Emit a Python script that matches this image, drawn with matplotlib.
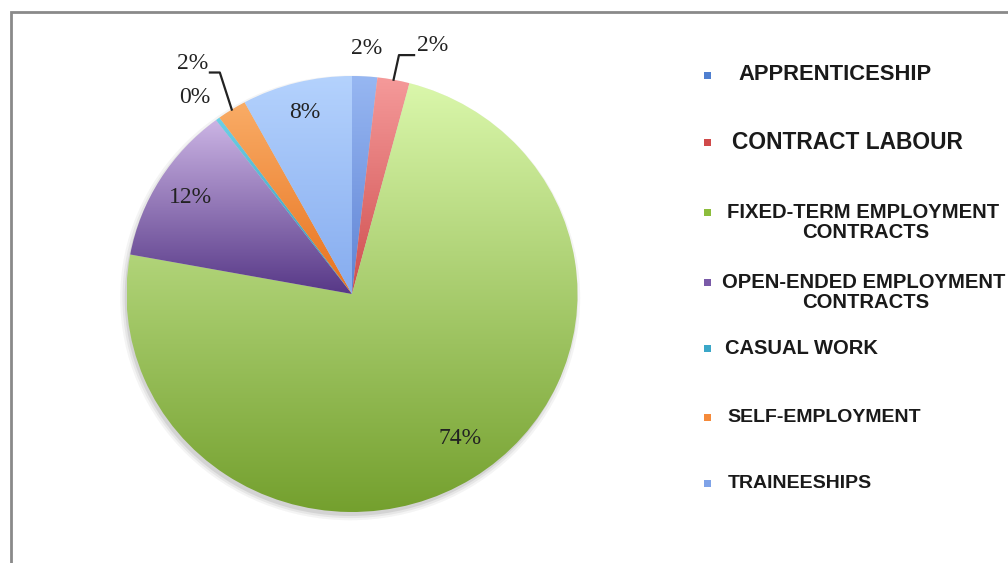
import numpy as np
import matplotlib.pyplot as plt
from matplotlib.colors import to_rgb
from matplotlib.patches import Rectangle, Ellipse

# data
labels = ['APPRENTICESHIP', 'CONTRACT LABOUR', 'FIXED-TERM EMPLOYMENT\nCONTRACTS',
          'OPEN-ENDED EMPLOYMENT\nCONTRACTS', 'CASUAL WORK', 'SELF-EMPLOYMENT', 'TRAINEESHIPS']
values = [1.8, 2.3, 73.8, 11.8, 0.3, 2.1, 7.9]
pct_text = ['2%', '2%', '74%', '12%', '0%', '2%', '8%']

# gradient colours per slice (top, bottom) and legend swatch colours
grad_top = ['#97b7f2', '#f59a9a', '#daf7ab', '#cbb4e4', '#6ed0e6', '#f9ac66', '#b4d2fd']
grad_bot = ['#5f83d4', '#cf4e4e', '#74a02e', '#573887', '#2f93b4', '#e8721e', '#86acef']
swatch = ['#4f7fd0', '#d04a4a', '#8cbd3c', '#7a5aa8', '#3ba7c8', '#f58a3a', '#7fa3e8']

W, H = 1008, 563
fig = plt.figure(figsize=(W / 100, H / 100), dpi=100)


def fx(px):
    return px / W


def fy(py):
    return 1 - py / H


# pie axes placed so the unit circle maps onto the reference ellipse
cx, cy, rx, ry = 352, 294, 225.5, 218
ax = fig.add_axes([fx(cx - rx), fy(cy + ry), 2 * rx / W, 2 * ry / H])
ax.set_xlim(-1, 1)
ax.set_ylim(-1, 1)
ax.axis('off')

# soft shadow below the pie
for i, a in enumerate([0.05, 0.07, 0.1]):
    s = 1.0 + 0.01 * (2 - i)
    ax.add_patch(Ellipse((-0.008, -0.018), 2 * s, 2 * s, facecolor='#303030',
                         edgecolor='none', alpha=a, zorder=0, clip_on=False))

wedges, _ = ax.pie(values, startangle=90, counterclock=False, radius=1,
                   colors=grad_bot, wedgeprops=dict(linewidth=0))

for w, c1, c2 in zip(wedges, grad_top, grad_bot):
    ext = w.get_path().get_extents()
    t = np.linspace(0, 1, 256)[:, None, None]
    img = (1 - t) * np.array(to_rgb(c1)) + t * np.array(to_rgb(c2))
    im = ax.imshow(img, extent=(ext.x0, ext.x1, ext.y0, ext.y1), aspect='auto',
                   origin='upper', zorder=2, interpolation='bilinear')
    im.set_clip_path(w)
    w.set_facecolor('none')
ax.set_xlim(-1, 1)
ax.set_ylim(-1, 1)

# percentage labels
mids = []
cum = 0
for v in values:
    ang = np.deg2rad((cum + v / 2) / sum(values) * 360)
    mids.append(ang)
    cum += v

dist = [1.13, None, 0.81, 0.84, 1.14, None, 0.86]
nudge = [(0, 0), None, (0.045, 0.02), (0, 0), (-0.02, -0.015), None, (0, 0)]
font = dict(family='Liberation Serif', fontsize=17, color='#222222')
for i, d in enumerate(dist):
    if d is None:
        continue
    ax.text(d * np.sin(mids[i]) + nudge[i][0], d * np.cos(mids[i]) + nudge[i][1],
            pct_text[i], ha='center', va='center', zorder=5, **font)

# labels with leader lines: (slice, elbow offset, horizontal run, text offset)
leaders = [(1, (0.024, 0.113), 0.067, (0.014, 0.046)),
           (5, (-0.053, 0.17), -0.044, (-0.006, 0.04))]
for i, (ex, ey), run, (tx, ty) in leaders:
    a = mids[i]
    x0, y0 = np.sin(a), np.cos(a)
    x1, y1 = x0 + ex, y0 + ey
    x2 = x1 + run
    ax.plot([x0, x1, x2], [y0, y1, y1], color='#222222', lw=1.6, zorder=5,
            clip_on=False)
    ax.text(x2 + tx, y1 + ty, pct_text[i],
            ha='left' if run > 0 else 'right', va='center', zorder=5, **font)

# legend
leg_y = [75, 142, 212, 282, 348, 417, 483]
leg_x = [738, 732, 727, 722, 725, 727, 728]
leg_size = [15.8, 16.4, 14.6, 14.6, 14.5, 14, 14]
for lab, y, x, s, c in zip(labels, leg_y, leg_x, leg_size, swatch):
    fig.add_artist(Rectangle((fx(704), fy(y + 4)), 7 / W, 7 / H,
                             transform=fig.transFigure, facecolor=c, edgecolor='none'))
    parts = lab.split('\n')
    fig.text(fx(x), fy(y), parts[0], ha='left', va='center', fontsize=s,
             family='Liberation Sans', fontweight='bold', color='#1a1a1a')
    if len(parts) > 1:
        fig.text(fx(866), fy(y + 20), parts[1], ha='center', va='center', fontsize=s,
                 family='Liberation Sans', fontweight='bold', color='#1a1a1a')

# outer frame
fig.add_artist(Rectangle((fx(11), fy(H + 20)), (W + 20) / W, (H + 8) / H,
                         transform=fig.transFigure, facecolor='none',
                         edgecolor='#8a8a8a', linewidth=2))

fig.savefig('out.png', dpi=100)
